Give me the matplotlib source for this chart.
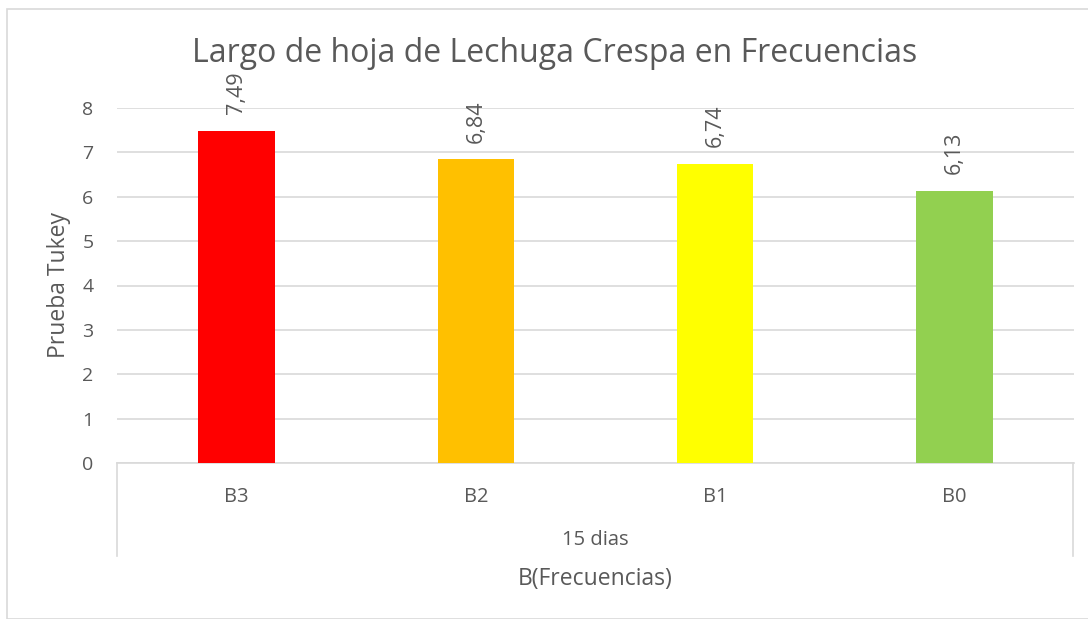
import matplotlib.pyplot as plt
from matplotlib.patches import Rectangle
from matplotlib.lines import Line2D

categories = ["B3", "B2", "B1", "B0"]
values = [7.49, 6.84, 6.74, 6.13]
colors = ["#FF0000", "#FFC000", "#FFFF00", "#92D050"]
group_label = "15 dias"
y_ticks = [0, 1, 2, 3, 4, 5, 6, 7, 8]

TXT = "#595959"
GRID = "#D9D9D9"
plt.rcParams["font.family"] = ["Open Sans", "DejaVu Sans"]

W, H = 1088, 619
fig = plt.figure(figsize=(W / 100, H / 100), dpi=100)
# plot area in pixels: x 117..1074, y 108..463
ax = fig.add_axes([117 / W, 1 - 463 / H, (1074 - 117) / W, (463 - 108) / H])

x = list(range(len(categories)))
ax.bar(x, values, width=0.32, color=colors, zorder=3)
ax.set_xlim(-0.5, len(categories) - 0.5)
ax.set_ylim(0, 8)
ax.set_yticks(y_ticks)
ax.set_yticklabels([str(t) for t in y_ticks], fontsize=14, color=TXT)
ax.tick_params(axis="y", length=0, pad=17)
ax.set_xticks(x)
ax.set_xticklabels(categories, fontsize=14.5, color=TXT)
ax.tick_params(axis="x", length=0, pad=17)
ax.grid(axis="y", color=GRID, linewidth=1.2, zorder=0)
for s in ["top", "right", "left"]:
    ax.spines[s].set_visible(False)
ax.spines["bottom"].set_color(GRID)
ax.spines["bottom"].set_linewidth(1.2)

for xi, v in zip(x, values):
    ax.annotate(f"{v:.2f}".replace(".", ","), (xi, v), xytext=(0, 12),
                textcoords="offset points", rotation=90, ha="center",
                va="bottom", fontsize=15.5, color=TXT)

# multi-level category axis lines
for px in (117, 1073):
    fig.add_artist(Line2D([px / W, px / W], [1 - 463 / H, 1 - 556 / H],
                          color=GRID, linewidth=1.2))
fig.text((117 + 1074) / 2 / W, 1 - 540 / H, group_label, ha="center",
         va="center", fontsize=14.5, color=TXT)
fig.text((117 + 1074) / 2 / W, 1 - 579 / H, "B(Frecuencias)", ha="center",
         va="center", fontsize=16.5, color=TXT)
fig.text(59 / W, 1 - 285 / H, "Prueba Tukey", ha="center", va="center",
         rotation=90, fontsize=16.5, color=TXT)
fig.text(555 / W, 1 - 54 / H, "Largo de hoja de Lechuga Crespa en Frecuencias",
         ha="center", va="center", fontsize=23, color=TXT)

fig.add_artist(Rectangle((7 / W, 0), 1.2, 1 - 9 / H, transform=fig.transFigure,
                         fill=False, edgecolor=GRID, linewidth=1.2))

fig.savefig("out.png", dpi=100)
